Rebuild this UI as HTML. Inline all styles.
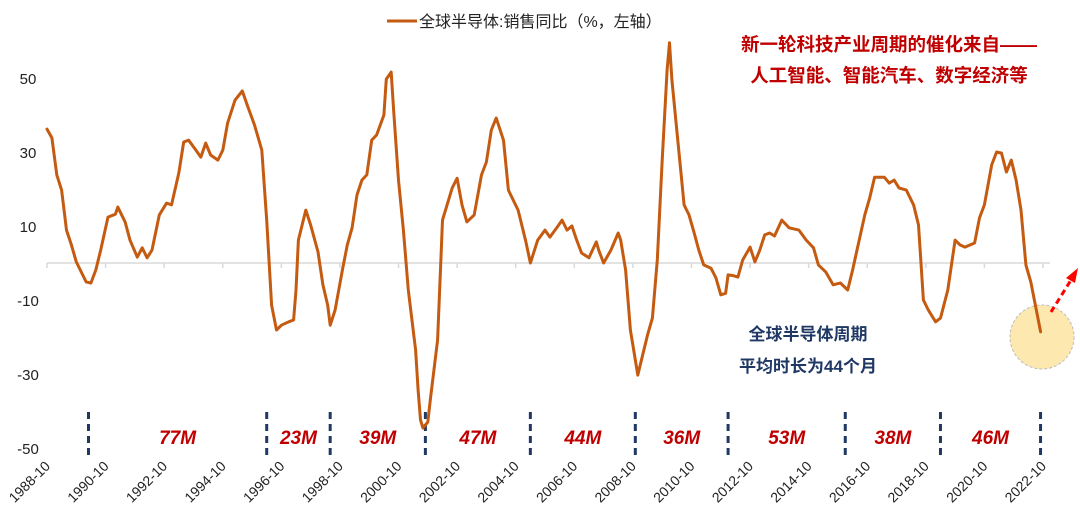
<!DOCTYPE html>
<html><head><meta charset="utf-8">
<style>
html,body{margin:0;padding:0;background:#fff;}
svg{display:block;font-family:"Liberation Sans","Noto Sans CJK SC",sans-serif;}
</style></head>
<body>
<svg id="chart" width="1080" height="518" viewBox="0 0 1080 518">
<circle cx="1042" cy="337" r="32" fill="#fde9b0" stroke="#bbb" stroke-dasharray="3,2"/>
<g>
<line x1="1051" y1="312" x2="1071" y2="280" stroke="#ff0000" stroke-width="3" stroke-dasharray="6,4"/>
<polygon points="1078,268 1066,278 1075,283" fill="#ff0000"/>
</g>
<g id="axes"></g>
<g id="marks"></g>
<g>
<line x1="387" y1="21" x2="417" y2="21" stroke="#c55a11" stroke-width="3"/>
<text x="419" y="27" font-size="16" fill="#222">全球半导体:销售同比（%，左轴）</text>
</g>
<g font-weight="bold" font-size="18.5" fill="#c00000" text-anchor="middle">
<text x="889" y="51">新一轮科技产业周期的催化来自——</text>
<text x="889" y="82">人工智能、智能汽车、数字经济等</text>
</g>
<g font-weight="bold" font-size="17" fill="#1f3864" text-anchor="middle">
<text x="808" y="340">全球半导体周期</text>
<text x="808" y="372">平均时长为44个月</text>
</g>
</svg>
<script>
// months since 1988-10
const months = [0,2,4,6,8,10,12,16,18,20,22,25,28,29,32,34,37,39,41,43,46,49,51,54,56,58,61,63,65,67,70,72,74,77,80,82,85,88,90,92,94,96,99,101,102,103,106,108,111,113,115,116,118,121,123,125,127,129,131,133,135,138,139,141,142,144,146,148,151,152,153,154,156,157,160,162,166,168,170,172,175,178,180,182,184,187,189,193,196,198,201,204,206,209,211,213,215,217,219,222,225,226,228,231,234,235,237,239,242,243,246,248,250,252,254,255,256,258,261,263,265,267,269,272,274,276,278,279,281,283,285,288,290,292,294,296,298,301,304,308,311,314,316,319,322,325,328,330,332,335,337,339,343,345,347,349,352,355,357,359,361,364,366,369,372,374,376,380,382,384,387,389,391,393,395,397,399,401,403,407];
const salesYoY = [36.2,33.8,23.8,19.7,8.9,4.9,0.3,-5.1,-5.4,-1.9,3.5,12.4,13.2,15.1,11.1,6.2,1.6,4.1,1.4,3.5,13,16.2,15.7,24.3,32.7,33.2,30.5,28.6,32.4,29.2,27.8,30.5,37.8,44,46.5,42.7,37.3,30.5,11.6,-11.4,-18.1,-16.8,-15.9,-15.4,-7.3,6.2,14.3,10.3,3,-5.9,-11.4,-16.8,-12.7,-1.9,4.9,9.5,18.4,22.4,23.8,33.2,34.6,40,49.7,51.6,41.4,22.4,8.9,-7.3,-23.5,-34.3,-42.4,-44.6,-43,-37,-20.8,11.6,20.3,22.9,15.7,11.1,13,23.8,27.3,35.9,39.2,33.2,19.7,14.3,6.2,0,6.2,8.9,7,9.7,11.6,8.9,10,6.2,2.7,1.4,5.7,3.5,0,3.5,8.1,6.2,-1.9,-18.1,-30.3,-27.6,-19.5,-14.9,0.8,27.8,52.2,59.5,49.5,35.9,15.7,13,8.4,3.5,-0.5,-1.4,-4,-8.6,-8.2,-3.2,-3.4,-3.8,0.8,4.3,0.3,3.5,7.6,8.1,7.3,11.6,9.5,8.9,6.2,4.1,-0.5,-2.4,-5.9,-5.4,-7.3,-1.9,4.1,13,17.6,23.2,23.2,21.6,22.4,20.3,19.7,15.7,10.3,-10,-12.7,-15.9,-14.9,-7.3,6.2,4.9,4.3,5.4,12.2,15.7,26.5,30,29.7,24.6,27.8,22.4,14.3,-0.5,-5.1,-18.6];
const yTicks = [50,30,10,-10,-30,-50];
const xTickMonths = [0,24,48,72,96,120,144,168,192,216,240,264,288,312,336,360,384,408];
const xTickLabels = ["1988-10","1990-10","1992-10","1994-10","1996-10","1998-10","2000-10","2002-10","2004-10","2006-10","2008-10","2010-10","2012-10","2014-10","2016-10","2018-10","2020-10","2022-10"];
const cycleBoundaries = [17,90,116,155,198,241,279,327,366,407];
const cycleLabels = ["77M","23M","39M","47M","44M","36M","53M","38M","46M"];

const NS="http://www.w3.org/2000/svg";
const X0=47, XPM=(1043-47)/408, Y0=263, YPU=3.7;
const xs = m => X0 + m*XPM;
const ys = v => Y0 - v*YPU;
function mk(tag, attrs, parent){const e=document.createElementNS(NS,tag);for(const k in attrs)e.setAttribute(k,attrs[k]);parent.appendChild(e);return e;}
const axes=document.getElementById('axes'), marks=document.getElementById('marks');

const zl=mk('line',{x1:X0,y1:ys(0),x2:1050,y2:ys(0),stroke:'#d9d9d9','stroke-width':1.5},axes);


yTicks.forEach(v=>{
  const t=mk('text',{x:28,y:ys(v)+6,'font-size':15,fill:'#222','text-anchor':'middle'},axes);
  
  
  t.textContent=v;
});
xTickMonths.forEach((m,i)=>{
  const tk=mk('line',{x1:xs(m),y1:ys(0),x2:xs(m),y2:ys(0)+5,stroke:'#d9d9d9','stroke-width':1.5},axes);
  
  
  const x=xs(m)+4, y=467;
  const t=mk('text',{x:x,y:y,'font-size':14,fill:'#222','text-anchor':'end',transform:`rotate(-45 ${x} ${y})`},axes);
  
  
  t.textContent=xTickLabels[i];
});
cycleBoundaries.forEach(m=>{
  const l=mk('line',{x1:xs(m),y1:412,x2:xs(m),y2:460,stroke:'#1f3864','stroke-width':3,'stroke-dasharray':'7,5'},marks);
  
  
});
cycleLabels.forEach((s,i)=>{
  const cx=(xs(cycleBoundaries[i])+xs(cycleBoundaries[i+1]))/2;
  const t=mk('text',{x:cx,y:444,'font-size':19,'font-weight':'bold','font-style':'italic',fill:'#c00000','text-anchor':'middle'},marks);
  
  
  t.textContent=s;
});
const d=months.map((m,i)=>(i?'L':'M')+xs(m).toFixed(1)+','+ys(salesYoY[i]).toFixed(1)).join('');
const p=mk('path',{d:d,fill:'none',stroke:'#c55a11','stroke-width':3,'stroke-linejoin':'round','stroke-linecap':'round'},marks);


</script>
</body></html>
